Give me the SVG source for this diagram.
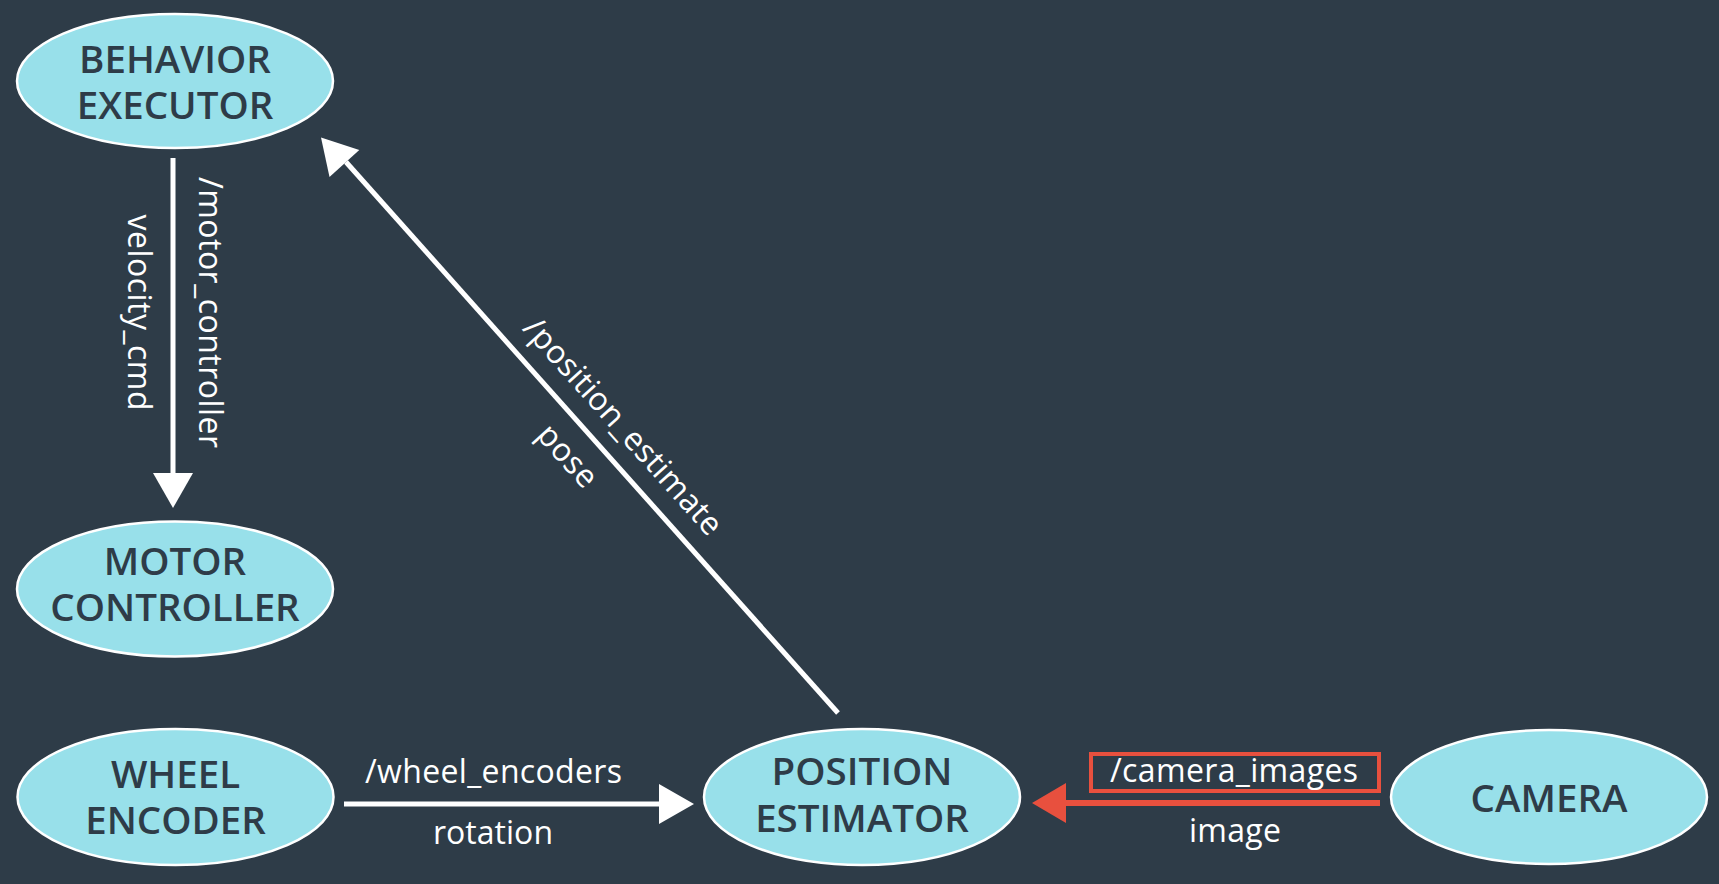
<svg xmlns="http://www.w3.org/2000/svg" width="1719" height="884" viewBox="0 0 1719 884">
<style>
.node ellipse{fill:#98e0ea;stroke:#ffffff;stroke-width:2.5}
.node text{font-family:"Open Sans","Liberation Sans",sans-serif;font-weight:600;font-size:38.5px;fill:#2e3c48;text-anchor:middle}
.lbl{font-family:"Open Sans","Liberation Sans",sans-serif;font-size:32px;fill:#ffffff;text-anchor:middle}
.w{stroke:#ffffff;stroke-width:5;fill:none}
.r{stroke:#e8503e;stroke-width:6;fill:none}
</style>
<rect width="1719" height="884" fill="#2e3c48"/>
<g id="connectors">
  <g id="c-behavior-motor">
    <line class="w" x1="173" y1="158" x2="173" y2="476"/>
    <polygon points="173,508 153,473 193,473" fill="#ffffff"/>
    <text class="lbl" transform="translate(199,312.5) rotate(90)" textLength="271">/motor_controller</text>
    <text class="lbl" transform="translate(128,312.5) rotate(90)" textLength="196">velocity_cmd</text>
  </g>
  <g id="c-position-behavior">
    <line class="w" x1="838" y1="713" x2="346" y2="162"/>
    <polygon points="321,137.5 359.3,150.1 329.5,176.9" fill="#ffffff"/>
    <text class="lbl" transform="translate(615,433.5) rotate(48.06)" textLength="280">/position_estimate</text>
    <text class="lbl" transform="translate(559.6,463) rotate(48.06)" textLength="73">pose</text>
  </g>
  <g id="c-wheel-position">
    <line class="w" x1="344" y1="804" x2="662" y2="804"/>
    <polygon points="694,804 659,784 659,824" fill="#ffffff"/>
    <text class="lbl" x="493.5" y="783" textLength="257">/wheel_encoders</text>
    <text class="lbl" x="493" y="844" textLength="120">rotation</text>
  </g>
  <g id="c-camera-position">
    <line class="r" x1="1380" y1="803" x2="1063" y2="803"/>
    <polygon points="1032,803 1066,783 1066,823" fill="#e8503e"/>
    <rect x="1091" y="754" width="288" height="37" fill="none" stroke="#e8503e" stroke-width="4"/>
    <text class="lbl" x="1234" y="782" textLength="248">/camera_images</text>
    <text class="lbl" x="1235" y="842" textLength="92">image</text>
  </g>
</g>
<g id="behavior-executor" class="node">
  <ellipse cx="175" cy="81" rx="158" ry="67"/>
  <text x="175" y="73">BEHAVIOR<tspan x="175" y="119">EXECUTOR</tspan></text>
</g>
<g id="motor-controller" class="node">
  <ellipse cx="175" cy="589" rx="158" ry="67.5"/>
  <text x="175" y="575">MOTOR<tspan x="175" y="621">CONTROLLER</tspan></text>
</g>
<g id="wheel-encoder" class="node">
  <ellipse cx="175.5" cy="797" rx="158" ry="68"/>
  <text x="175.5" y="788">WHEEL<tspan x="175.5" y="834">ENCODER</tspan></text>
</g>
<g id="position-estimator" class="node">
  <ellipse cx="862" cy="797" rx="158" ry="68"/>
  <text x="862" y="785">POSITION<tspan x="862" y="832">ESTIMATOR</tspan></text>
</g>
<g id="camera" class="node">
  <ellipse cx="1549" cy="797" rx="158" ry="67"/>
  <text x="1549" y="812">CAMERA</text>
</g>
</svg>
